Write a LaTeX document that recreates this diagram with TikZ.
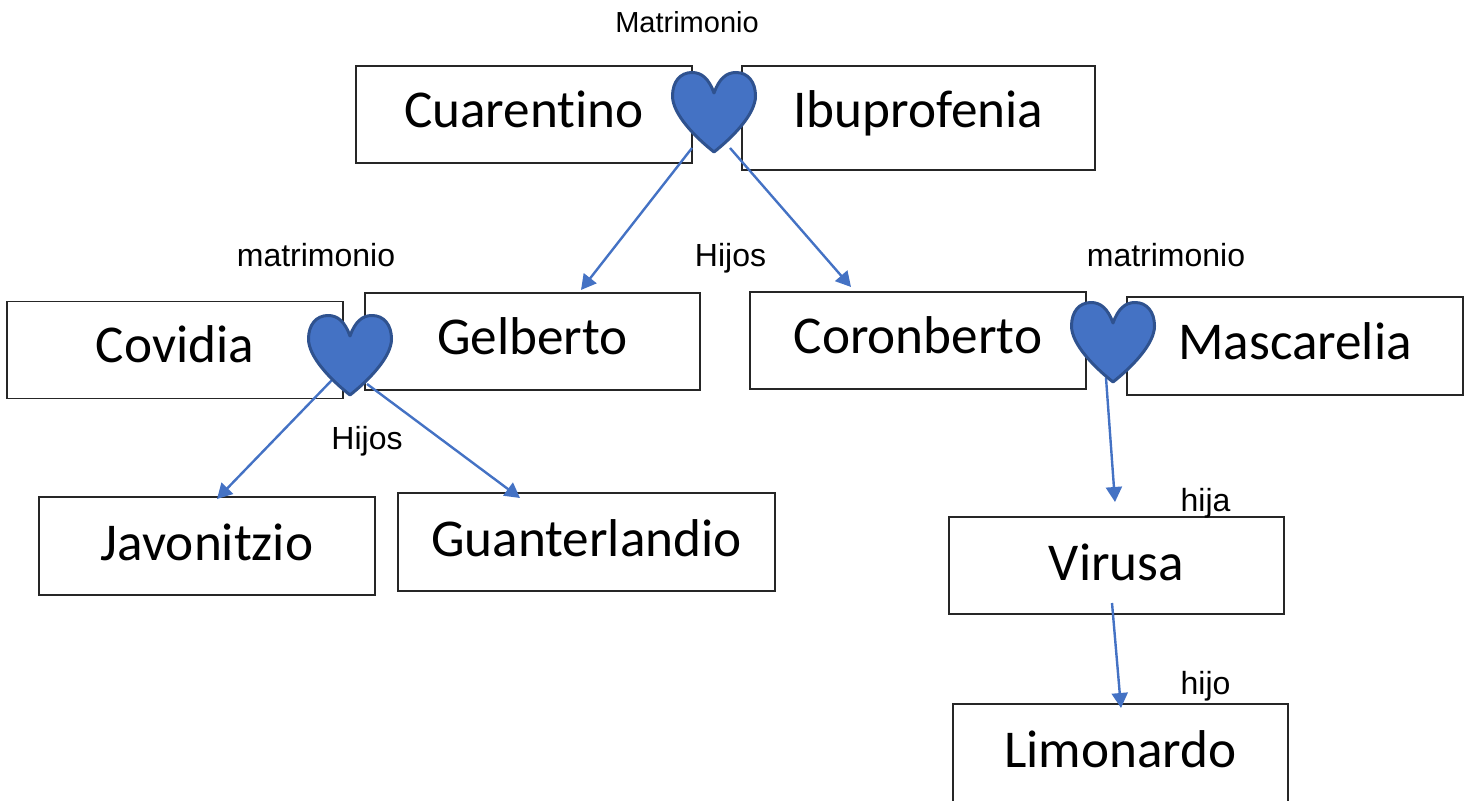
\documentclass[tikz,border=0pt]{standalone}
\usepackage{fontspec}
\setmainfont[Ligatures=NoCommon]{Carlito}
\newfontfamily\arialfont{Liberation Sans}
\usetikzlibrary{arrows.meta}
\definecolor{linkblue}{HTML}{4472C4}
\definecolor{heartedge}{HTML}{2F528F}
\newcommand{\lb}[2]{\raisebox{-#1pt}{#2}}
\tikzset{
  personbox/.style={draw=black!85,line width=.55pt,fill=white,inner sep=0pt,text height=0pt,text depth=0pt,font=\fontsize{26.6}{30}\selectfont},
  tag/.style={anchor=base,inner sep=0pt,font=\arialfont\fontsize{16}{19}\selectfont},
  link/.style={draw=linkblue,line width=1.2pt,-{Triangle[length=7.5pt,width=8pt]}},
  heartshape/.style={fill=linkblue,draw=heartedge,line width=1.5pt,line join=round},
  heart/.pic={
    \path[heartshape] (43,22) .. controls (38,8) and (31,1.5) .. (21,1.5)
      .. controls (9,1.5) and (1.5,11) .. (1.5,25)
      .. controls (1.5,43) and (24,66) .. (43,81)
      .. controls (62,66) and (84.5,43) .. (84.5,25)
      .. controls (84.5,11) and (77,1.5) .. (65,1.5)
      .. controls (55,1.5) and (48,8) .. (43,22) -- cycle;
  }
}
\begin{document}
\begin{tikzpicture}[x=.5pt,y=-.5pt]
\useasboundingbox (0,0) rectangle (1471,801);
% boxes
\node[personbox,minimum width=168pt,minimum height=48.5pt] (cuarentino) at (524,114.5) {\lb{6.75}{Cuarentino}};
\node[personbox,minimum width=176.5pt,minimum height=52pt] (ibuprofenia) at (918.5,118) {\lb{5}{Ibuprofenia}};
\node[personbox,minimum width=168pt,minimum height=48.5pt] (covidia) at (175,349.7) {\lb{6.3}{Covidia}};
\node[personbox,minimum width=167.5pt,minimum height=48.5pt] (gelberto) at (532.5,341.5) {\lb{6.75}{Gelberto}};
\node[personbox,minimum width=168pt,minimum height=48.5pt] (coronberto) at (918,340.5) {\lb{6.75}{Coronberto}};
\node[personbox,minimum width=168pt,minimum height=49pt] (mascarelia) at (1295,346) {\lb{7}{Mascarelia}};
\node[personbox,minimum width=168pt,minimum height=49pt] (javonitzio) at (207,546) {\lb{7}{Javonitzio}};
\node[personbox,minimum width=188.5pt,minimum height=49pt] (guanterlandio) at (586.5,542) {\lb{7}{Guanterlandio}};
\node[personbox,minimum width=167.5pt,minimum height=48.5pt] (virusa) at (1116.5,565.5) {\lb{7.25}{Virusa}};
\node[personbox,minimum width=167.5pt,minimum height=49.5pt] (limonardo) at (1120.5,753.5) {\lb{6.75}{Limonardo}};
% labels
\node[tag,font=\arialfont\fontsize{14.5}{17}\selectfont] (t1) at (687,33) {Matrimonio};
\node[tag] (t2) at (316,267) {matrimonio};
\node[tag] (t3) at (730.5,267) {Hijos};
\node[tag] (t4) at (1166,267) {matrimonio};
\node[tag] (t5) at (367,450) {Hijos};
\node[tag] (t6) at (1205.5,511) {hija};
\node[tag] (t7) at (1205.5,694) {hijo};
% connector ends
\coordinate (h1a) at (692,148);
\coordinate (h1b) at (730,148);
\coordinate (h2a) at (332,380);
\coordinate (h2b) at (367,384);
\coordinate (h3a) at (1106,378);
\coordinate (v1) at (1112,603);
\coordinate (e1) at (581,290);
\coordinate (e2) at (851,287);
\coordinate (e3) at (217,499);
\coordinate (e4) at (520,498);
\coordinate (e5) at (1115,502);
\coordinate (e6) at (1121,708);
\draw[link] (h1a) -- (e1);
\draw[link] (h1b) -- (e2);
\draw[link] (h2a) -- (e3);
\draw[link] (h2b) -- (e4);
\draw[link] (h3a) -- (e5);
\draw[link] (v1) -- (e6);
% hearts
\pic at (671,71) {heart};
\pic at (307,314) {heart};
\pic at (1070,301) {heart};
\end{tikzpicture}
\end{document}
